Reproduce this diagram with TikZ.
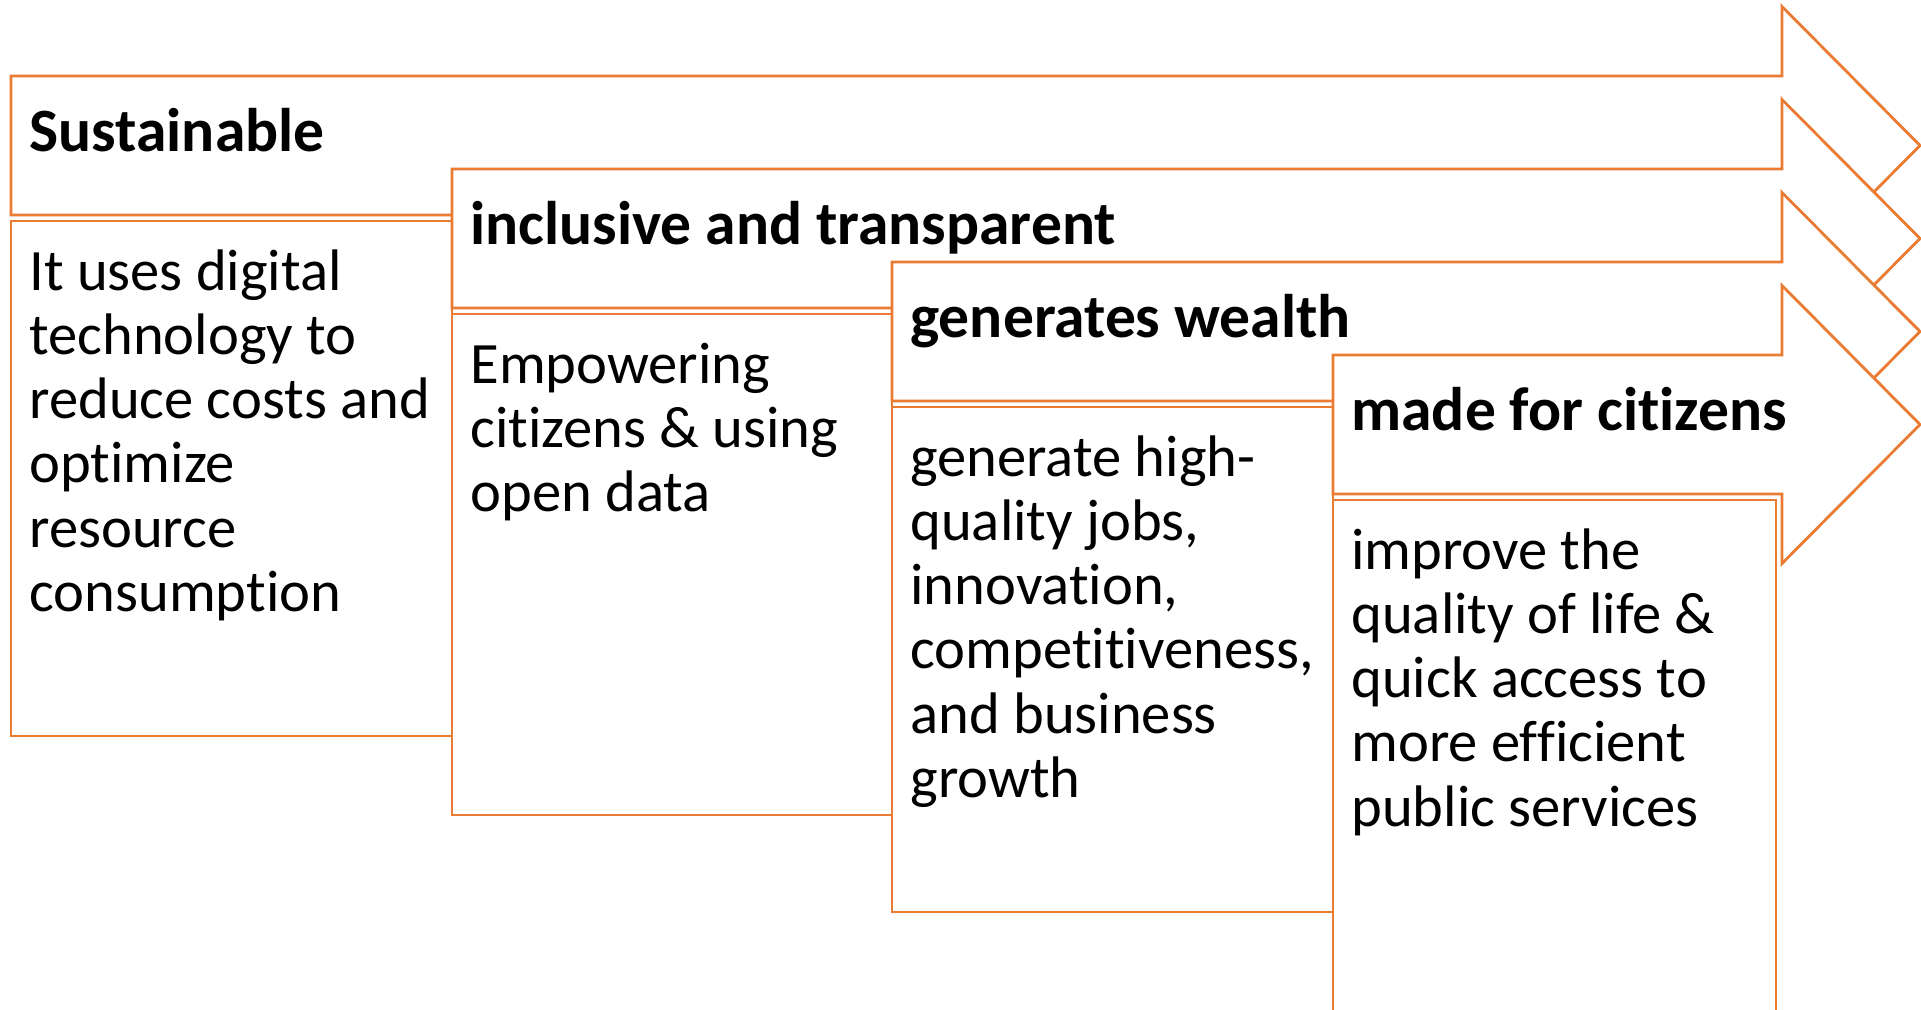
\documentclass[tikz,border=0pt]{standalone}
\usepackage{fontspec}
\setmainfont[RawFeature={-liga;-clig;-dlig}]{Carlito}
\definecolor{acc}{HTML}{E97B33}
\tikzset{
  chev/.style={draw=acc, line width=1.4pt, fill=white, line join=miter},
  bodybox/.style={draw=acc, line width=1.4pt, fill=white},
  headtxt/.style={anchor=base west, inner sep=0pt, font=\fontsize{30.8pt}{32pt}\selectfont\bfseries},
  bodytxt/.style={anchor=base west, inner sep=0pt, font=\fontsize{29.3pt}{32.15pt}\selectfont},
}
\newcommand{\mylines}[1]{\parbox[t]{12cm}{\raggedright\fontsize{29.3pt}{32.15pt}\selectfont #1}}
\begin{document}
\begin{tikzpicture}[x=0.5pt,y=-0.5pt]
\useasboundingbox (0,0) rectangle (1921,1009);
% arrow 1
\draw[chev] (11,76) -- (1782,76) -- (1782,6.5) -- (1920,145.5) -- (1782,284.5) -- (1782,215) -- (11,215) -- cycle;
\draw[bodybox] (11,221) rectangle (452,736);
\node[headtxt] (h1) at (29,151) {Sustainable};
\node[bodytxt] (b1) at (29,290) {\mylines{It uses digital\\technology to\\reduce costs and\\optimize\\resource\\consumption}};
% arrow 2
\draw[chev] (452,169) -- (1782,169) -- (1782,99.5) -- (1920,238.5) -- (1782,377.5) -- (1782,308) -- (452,308) -- cycle;
\draw[bodybox] (452,314) rectangle (892,815);
\node[headtxt] (h2) at (470,244) {inclusive and transparent};
\node[bodytxt] (b2) at (470,383) {\mylines{Empowering\\citizens \& using\\open data}};
% arrow 3
\draw[chev] (892,262) -- (1782,262) -- (1782,192.5) -- (1920,331.5) -- (1782,470.5) -- (1782,401) -- (892,401) -- cycle;
\draw[bodybox] (892,407) rectangle (1333,912);
\node[headtxt] (h3) at (910,337) {generates wealth};
\node[bodytxt] (b3) at (910,476) {\mylines{generate high-\\quality jobs,\\innovation,\\competitiveness,\\and business\\growth}};
% arrow 4
\draw[chev] (1333,355) -- (1782,355) -- (1782,285.5) -- (1920,424.5) -- (1782,563.5) -- (1782,494) -- (1333,494) -- cycle;
\draw[bodybox] (1333,500) rectangle (1776,1020);
\node[headtxt] (h4) at (1351,430) {made for citizens};
\node[bodytxt] (b4) at (1351,569) {\mylines{improve the\\quality of life \&\\quick access to\\more efficient\\public services}};
\end{tikzpicture}
\end{document}
